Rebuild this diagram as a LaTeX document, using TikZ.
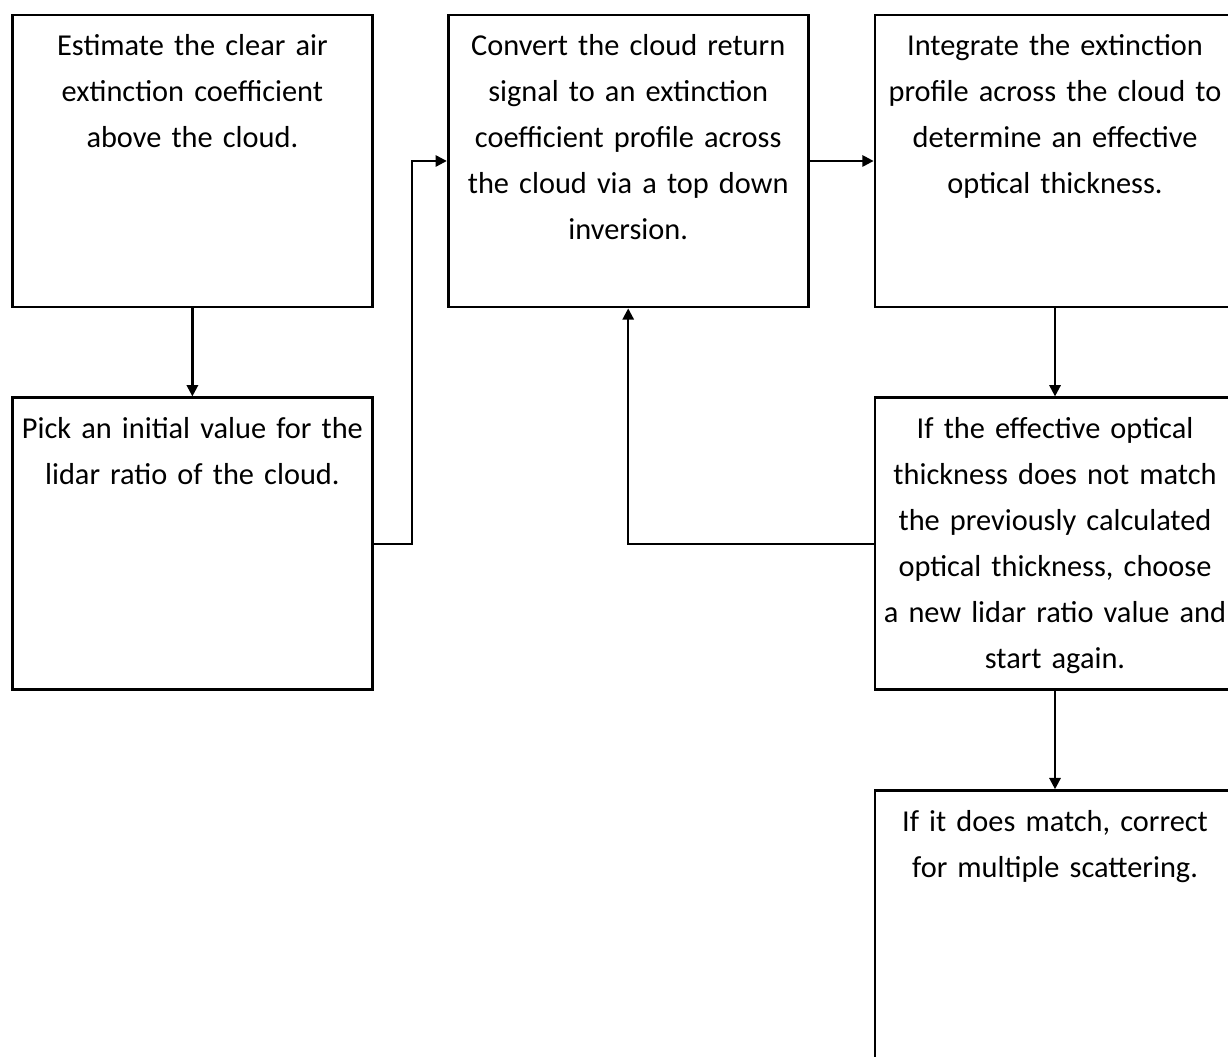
\documentclass[tikz,border=0pt]{standalone}
\usepackage{fontspec}
\setmainfont{Carlito}
\usetikzlibrary{arrows.meta, positioning}

\begin{document}
\begin{tikzpicture}[
    >={Triangle[length=8pt, width=8pt]},
    node distance=2.2cm and 1.825cm,
    font=\fontsize{21.6}{32.7}\selectfont,
    % Define styles for the boxes and links
    stepbox/.style={rectangle, draw=black, line width=2pt, align=center, text width=8.9cm, minimum width=9cm, minimum height=7.3cm, inner xsep=0.04cm, inner ysep=0.25cm, text height=0.775cm, text depth=6.025cm},
    link/.style={->, line width=1.6pt},
]

% page frame (the right and bottom boxes run off the edge)
\clip (-4.81,-22.4) rectangle (25.89,4.025);
\fill[white] (-4.81,-22.4) rectangle (25.89,4.025);

% -------------------------
% Steps
% -------------------------
\node (estimate) [stepbox] {Estimate the clear air\\extinction coefficient\\above the cloud.};
\node (pick) [stepbox, below=of estimate] {Pick an initial value for the\\lidar ratio of the cloud.};

\node (convert) [stepbox, right=of estimate] {Convert the cloud return\\signal to an extinction\\coefficient profile across\\the cloud via a top down\\inversion.};
\node (integrate) [stepbox, right=1.6cm of convert] {Integrate the extinction\\profile across the cloud to\\determine an effective\\optical thickness.};

\node (compare) [stepbox, below=2.2cm of integrate] {If the effective optical\\thickness does not match\\the previously calculated\\optical thickness, choose\\a new lidar ratio value and\\start again.};
\node (correct) [stepbox, below=2.45cm of compare] {If it does match, correct\\for multiple scattering.};

% -------------------------
% Arrow Connections
% -------------------------
\draw[link] (estimate) -- (pick);
\draw[link] (pick.east) -- ++(0.95,0) |- (convert.west);
\draw[link] (convert) -- (integrate);
\draw[link] (integrate) -- (compare);

% loop back with a new lidar ratio
\draw[link] (compare.west) -| (convert.south);

\draw[link] (compare) -- (correct);

\end{tikzpicture}
\end{document}
